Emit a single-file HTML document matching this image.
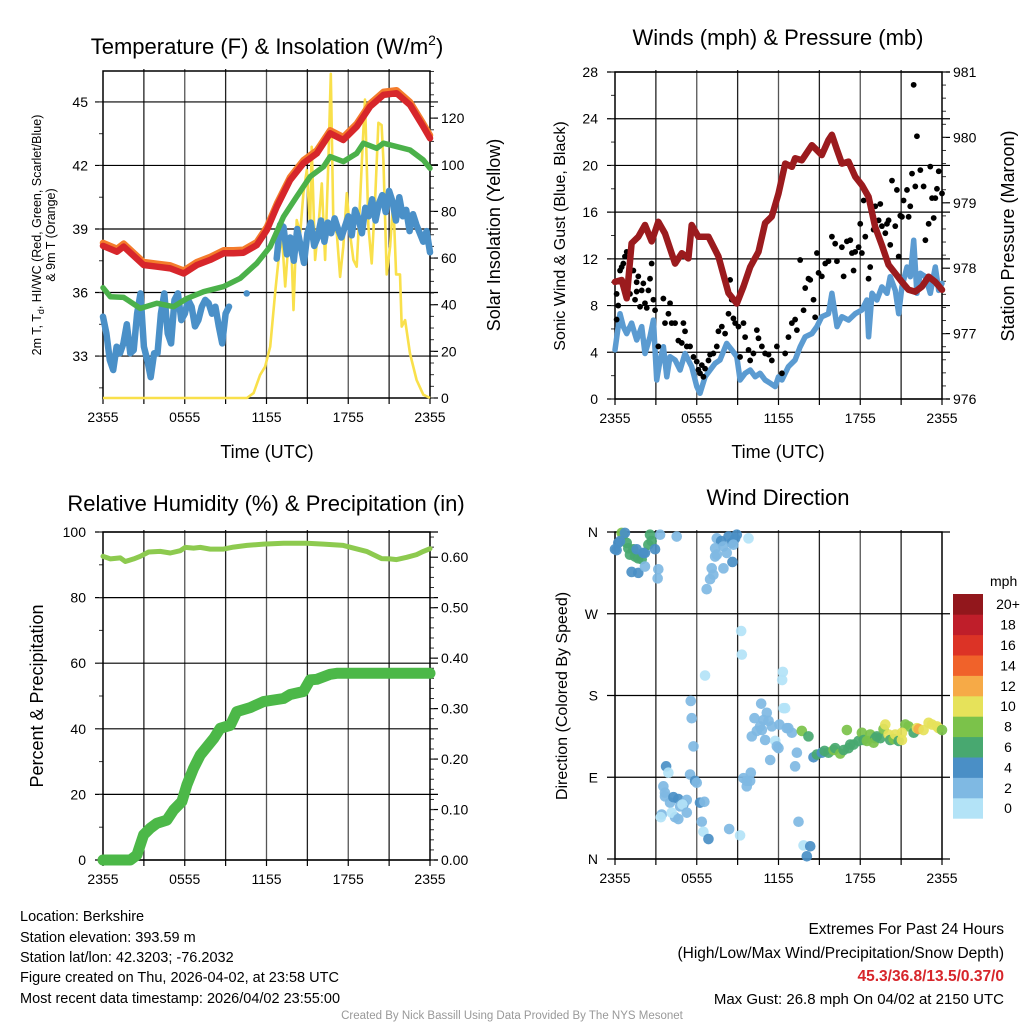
<!DOCTYPE html>
<html><head><meta charset="utf-8"><style>
html,body{margin:0;padding:0;background:#fff;}
svg{display:block;font-family:"Liberation Sans",Arial,sans-serif;}
</style></head><body>
<svg id="chart" width="1024" height="1024" viewBox="0 0 1024 1024" xmlns="http://www.w3.org/2000/svg">
<rect width="1024" height="1024" fill="#fff"/>
<text x="267" y="54" font-size="22" text-anchor="middle">Temperature (F) &amp; Insolation (W/m<tspan dy="-9" font-size="14">2</tspan><tspan dy="9">)</tspan></text>
<text x="778" y="45" font-size="22" text-anchor="middle">Winds (mph) &amp; Pressure (mb)</text>
<text x="266" y="511" font-size="22" text-anchor="middle">Relative Humidity (%) &amp; Precipitation (in)</text>
<text x="778" y="505" font-size="22" text-anchor="middle">Wind Direction</text>
<text transform="translate(41,235) rotate(-90)" font-size="12.5" text-anchor="middle">2m T, T<tspan dy="3" font-size="9">d</tspan><tspan dy="-3">, HI/WC (Red, Green, Scarlet/Blue)</tspan></text>
<text transform="translate(55,235) rotate(-90)" font-size="12.5" text-anchor="middle">&amp; 9m T (Orange)</text>
<text transform="translate(500,235) rotate(-90)" font-size="18" text-anchor="middle">Solar Insolation (Yellow)</text>
<text transform="translate(565,236) rotate(-90)" font-size="16" text-anchor="middle">Sonic Wind &amp; Gust (Blue, Black)</text>
<text transform="translate(1014,236) rotate(-90)" font-size="18" text-anchor="middle">Station Pressure (Maroon)</text>
<text transform="translate(43,696) rotate(-90)" font-size="18" text-anchor="middle">Percent &amp; Precipitation</text>
<text transform="translate(567,696) rotate(-90)" font-size="16" text-anchor="middle">Direction (Colored By Speed)</text>
<text x="267" y="458" font-size="18" text-anchor="middle">Time (UTC)</text>
<text x="778" y="458" font-size="18" text-anchor="middle">Time (UTC)</text>
<g font-size="14.5">
<text x="20" y="921">Location: Berkshire</text>
<text x="20" y="942">Station elevation: 393.59 m</text>
<text x="20" y="962">Station lat/lon: 42.3203; -76.2032</text>
<text x="20" y="982">Figure created on Thu, 2026-04-02, at 23:58 UTC</text>
<text x="20" y="1003">Most recent data timestamp: 2026/04/02 23:55:00</text>
</g>
<g font-size="15.5" text-anchor="end">
<text x="1004" y="934">Extremes For Past 24 Hours</text>
<text x="1004" y="958">(High/Low/Max Wind/Precipitation/Snow Depth)</text>
<text x="1004" y="981" fill="#d7262b" font-weight="bold">45.3/36.8/13.5/0.37/0</text>
<text x="1004" y="1004" font-size="15">Max Gust: 26.8 mph On 04/02 at 2150 UTC</text>
</g>
<text x="512" y="1019" font-size="11.5" fill="#999" text-anchor="middle">Created By Nick Bassill Using Data Provided By The NYS Mesonet</text>
<g id="layer"></g>
</svg>
<script>
// ---------- data ----------
const xTickLabels = ["2355","0555","1155","1755","2355"];
const tempTicks = [33,36,39,42,45];
const solarTicks = [0,20,40,60,80,100,120];
const windTicks = [0,4,8,12,16,20,24,28];
const presTicks = [976,977,978,979,980,981];
const pctTicks = [0,20,40,60,80,100];
const inchTicks = [0,0.1,0.2,0.3,0.4,0.5,0.6];
const inchLabels = ["0.00","0.10","0.20","0.30","0.40","0.50","0.60"];
const dirTicks = [0,90,180,270,360];
const dirLabels = ["N","E","S","W","N"];
const cbLabels = ["0","2","4","6","8","10","12","14","16","18","20+"];
const cbColors = ["#b3e3f7","#7fb9e3","#4a8fc6","#48a870","#7bc24a","#e6e25a","#f6aa47","#f0622a","#dc3326","#bf1e2a","#92171c"];

const tempTime = [0,1.03,1.52,2.98,3.96,4.94,5.92,6.89,7.87,8.85,9.58,10.31,11.29,12.02,12.76,13.73,14.71,15.69,16.67,17.64,18.62,19.6,20.58,21.55,22.53,23.51,24];
const tempVal  = [38.2,37.93,38.17,37.3,37.22,37.14,36.9,37.3,37.54,37.85,37.85,37.88,38.24,38.95,40.06,41.31,42.1,42.57,43.52,43.2,43.83,44.78,45.33,45.41,44.86,43.83,43.28];
const chillTime = [0,0.54,1.52,2.74,3.96,5.18,6.16,7.38,8.85,10.07,11.29,12.27,13.25,14.22,15.2,16.18,16.67,17.64,18.62,19.11,20.09,20.58,21.55,22.53,23.51,24];
const chillVal  = [36.23,35.8,35.77,35.25,35.49,35.33,35.72,36.04,36.28,36.67,37.38,38.17,39.58,40.53,41.47,41.94,42.42,42.18,42.57,43.05,42.81,43.05,42.89,42.73,42.26,41.87];
const dewTime = [0,0.25,0.5,0.75,1,1.25,1.5,1.75,2,2.25,2.5,2.75,3,3.25,3.5,3.75,4,4.25,4.5,4.75,5,5.25,5.5,5.75,6,6.25,6.5,6.75,7,7.25,7.5,7.75,8,8.25,8.5,8.75,9,9.25,9.4,10.5,10.55,10.6,12.7,
 12.75,13.0,13.25,13.5,13.75,14.0,14.25,14.5,14.75,15.0,15.25,15.5,15.75,16.0,16.25,16.5,16.75,17.0,17.25,17.5,17.75,18.0,18.25,18.5,18.75,19.0,19.25,19.5,19.75,20.0,20.25,20.5,20.75,21.0,21.25,21.5,21.75,22.0,22.25,22.5,22.75,23.0,23.25,23.5,23.75,24];
const dewVal  = [34.86,34.07,32.81,32.34,33.44,33.13,33.6,34.5,33.13,33.28,35.0,35.96,33.44,32.81,32.0,33.13,33.13,35.0,35.96,34.07,33.6,35.65,35.96,34.7,35.0,35.65,35.33,34.4,34.7,35.33,35.65,35.5,35.0,35.33,34.4,33.6,35.0,35.33,null,null,35.96,null,null,
 37.6,39.2,39.1,37.8,38.6,37.5,39.0,38.2,37.4,38.8,39.3,38.2,38.6,39.4,38.4,39.3,38.8,39.5,39.0,38.6,39.1,39.6,38.7,39.9,39.5,38.8,40.0,39.6,40.4,39.4,40.2,40.6,39.8,40.8,40.3,39.4,40.5,39.6,39.9,38.9,39.7,39.2,38.8,38.4,38.9,37.9,37.4];
const solarTime = [0,10.56,11.05,11.53,11.9,12.27,12.63,12.88,13.12,13.37,13.61,13.86,13.98,14.22,14.47,14.71,14.96,15.2,15.32,15.57,15.81,16.06,16.3,16.54,16.72,16.91,17.16,17.4,17.64,17.89,18.13,18.38,18.62,18.87,19.06,19.23,19.48,19.72,19.97,20.21,20.45,20.58,20.82,21.07,21.31,21.51,21.8,21.92,22.17,22.53,23.02,23.51,24];
const solarVal  = [0,0,2.1,9.9,13.4,22,44.9,59.2,70.6,47.8,66.3,59.2,37.7,76.3,70.6,87.8,97.7,73.5,107.7,59.2,73.5,92,59.2,102,139,73.5,70.6,51.9,64.9,87.8,70.6,59.2,56.3,84.9,109,128,73.5,57.7,84.9,118,117,102,53,64.9,84.9,53,53,30.6,33.4,19.1,7.7,1.4,0];
const presTime = [0,0.49,0.86,1.22,1.71,2.2,2.69,3.18,3.67,4.41,4.9,5.39,5.63,6.12,6.86,7.59,8.33,8.94,9.43,9.92,10.53,11.02,11.51,12.0,12.49,12.98,13.22,13.71,14.45,15.18,15.67,15.92,16.29,16.65,17.14,17.63,18.12,18.61,19.1,19.59,20.08,20.57,21.06,21.55,22.04,22.53,23.02,23.51,24];
const presVal  = [977.79,977.82,977.54,978.38,978.48,978.66,978.41,978.71,978.53,978.07,978.23,978.15,978.66,978.48,978.48,978.18,977.62,977.46,977.72,978.02,978.25,978.69,978.79,979.14,979.6,979.55,979.68,979.65,979.88,979.73,979.96,980.04,979.81,979.6,979.63,979.4,979.27,979.09,978.63,978.35,978.05,977.92,977.79,977.67,977.64,977.72,977.87,977.79,977.67];
const windTime = [0,0.37,0.61,0.86,1.22,1.59,1.96,2.2,2.57,2.82,3.06,3.31,3.55,3.8,4.04,4.41,4.78,5.14,5.63,6.0,6.24,6.61,6.98,7.35,7.71,8.2,8.57,8.94,9.18,9.55,9.92,10.29,10.65,11.02,11.39,11.76,12.0,12.25,12.73,13.22,13.59,13.96,14.45,14.82,15.18,15.67,15.92,16.29,16.65,17.14,17.63,18.12,18.49,18.61,18.86,19.22,19.59,19.96,20.2,20.57,20.82,21.06,21.43,21.67,21.92,22.16,22.41,22.78,23.14,23.51,23.76,24];
const windVal  = [4.2,7.3,6.2,5.6,6.5,5.05,6.2,3.9,5.33,6.76,1.63,3.34,4.48,1.9,3.62,3.34,2.48,3.9,2.77,1.06,0.49,1.9,2.48,3.05,3.34,4.76,4.2,3.62,1.63,2.2,2.48,1.9,2.2,1.63,1.35,1.06,1.9,1.63,2.77,3.34,4.48,5.33,5.6,6.2,7.05,7.3,9.05,6.2,7.05,6.76,7.3,7.62,8.48,5.33,9.05,8.48,9.6,9.05,10.47,9.3,7.3,9.6,11.3,10.47,13.6,9.05,10.76,10.47,9.05,11.3,9.3,9.9];
const gustTime = [0.12,0.12,0.24,0.37,0.49,0.61,0.73,0.86,0.98,1.1,1.22,1.35,1.47,1.59,1.59,1.71,1.84,1.96,2.08,2.2,2.33,2.45,2.57,2.69,2.82,2.94,3.18,3.55,3.67,3.92,4.04,4.16,4.41,4.65,4.9,5.02,5.14,5.27,5.51,5.76,6.0,6.12,6.24,6.37,6.49,6.61,6.86,6.98,7.22,7.47,7.59,7.84,8.08,8.33,8.45,8.57,8.69,8.82,9.06,9.18,9.43,9.55,9.8,9.92,10.16,10.41,10.53,10.78,11.02,11.27,11.51,11.88,12.25,12.49,12.73,12.98,13.22,13.35,13.59,13.84,13.96,14.2,14.33,14.57,14.69,14.82,14.94,15.18,15.43,15.67,15.92,16.16,16.29,16.65,16.78,17.02,17.27,17.39,17.51,17.63,17.88,18.0,18.12,18.25,18.37,18.61,18.73,18.98,19.1,19.35,19.47,19.59,19.84,19.96,20.08,20.2,20.33,20.57,20.69,20.82,20.94,21.06,21.18,21.43,21.55,21.67,21.8,21.92,22.04,22.16,22.41,22.65,22.78,23.02,23.14,23.27,23.39,23.51,23.63,23.76,24.0];
const gustVal  = [6.8,9.0,8.0,11.0,11.3,11.6,12.2,12.6,10.5,9.0,11.0,11.0,8.5,10.0,9.2,10.5,7.9,9.3,9.9,8.2,7.8,9.3,10.3,11.6,8.5,7.6,4.5,8.6,6.5,7.3,8.2,6.5,6.5,5.0,4.8,6.5,5.8,4.5,4.5,3.6,3.2,2.5,2.2,2.9,1.9,2.6,3.3,3.8,3.9,4.5,5.8,6.2,5.6,7.3,10.2,8.5,6.9,6.5,6.2,3.6,6.5,5.3,4.2,3.3,3.9,5.9,5.2,4.5,3.9,3.8,3.3,4.5,2.2,3.9,5.3,6.5,6.8,5.9,11.9,7.6,9.5,10.3,10.2,8.5,7.0,12.5,10.8,10.5,11.6,11.8,13.9,13.3,11.8,13.0,10.5,13.5,13.6,12.5,11.0,12.6,13.0,15.0,12.5,17.0,13.9,10.3,11.3,14.5,16.5,15.3,16.7,14.8,14.2,15.0,15.3,13.2,18.7,14.8,17.9,12.2,15.7,15.6,17.0,17.9,15.6,16.5,19.3,26.9,18.2,22.5,19.6,18.2,13.6,15.0,19.9,17.2,15.5,17.2,18.0,19.5,17.6];
const rhTime = [0,0.54,1.27,1.64,2.25,2.74,3.35,4.2,4.94,5.67,6.03,6.65,7.14,7.87,8.85,9.58,10.56,11.78,13.25,14.96,16.18,17.64,18.38,19.35,19.84,20.45,21.06,21.55,22.29,23.02,23.51,24];
const rhVal  = [92.6,91.8,92.1,91.0,91.8,92.6,93.9,94.1,93.6,94.3,95.3,95.1,95.3,94.8,94.8,95.4,95.9,96.3,96.6,96.6,96.3,95.9,95.1,94.1,93.1,91.9,91.8,91.6,92.3,93.1,94.1,94.9];
const precipTime = [0,2.0,2.49,2.98,3.47,3.96,4.69,5.18,5.79,6.16,6.65,7.14,8.13,8.6,9.34,9.82,10.8,11.78,13.25,13.74,14.71,15.2,15.69,16.67,17.16,24];
const precipVal  = [0,0,0.01,0.05,0.063,0.073,0.079,0.099,0.116,0.149,0.182,0.208,0.241,0.261,0.267,0.294,0.302,0.314,0.32,0.328,0.334,0.357,0.358,0.368,0.37,0.37];
const dirTime = [0.61,0.49,0.24,0,0.12,0.86,0.98,1.1,1.35,1.47,1.71,1.96,2.2,2.45,2.57,2.69,2.94,3.31,4.53,1.22,1.71,2.2,3.18,3.13,0.73,0.37,1.59,2.08,
 7.47,7.79,8.33,8.57,8.82,8.94,8.69,9.8,7.35,7.96,8.2,8.62,7.35,7.96,7.1,7.22,6.98,6.73,7.47,
 9.26,9.31,6.61,12.32,12.27,5.56,5.63,12.37,12.49,10.73,10.24,11.14,10.9,11.27,11.51,12.07,12.61,10.41,10.65,12.73,12.98,10.04,10.78,11.02,11.76,11.88,12.0,13.35,11.39,13.22,9.97,9.92,9.43,9.67,9.67,3.67,4.04,5.76,3.75,3.92,5.51,5.88,6.0,3.55,3.67,4.29,4.65,5.02,5.27,6.24,6.56,4.78,4.95,5.27,3.43,4.41,4.16,4.65,3.36,6.37,8.38,6.49,6.86,9.18,
 13.47,13.84,14.08,14.33,14.57,14.82,15.18,15.38,15.67,16.04,16.16,16.53,16.78,17.14,17.27,17.51,17.88,18.12,18.25,18.49,18.73,19.1,18.98,19.22,19.47,19.71,20.08,20.2,20.45,20.57,20.82,21.06,21.31,21.55,21.92,22.16,22.29,22.65,23.02,23.27,23.63,23.76,24.0,21.06,19.84,17.02,13.71,14.2];
const dirDeg = [357,359,348,341,340,348,342,335,341,333,331,330,337,346,357,350,341,357,355,316,315,322,319,309,359,350,341,337,
 353,350,355,348,353,357,346,353,342,344,337,327,333,320,320,313,308,297,335,
 251,225,202,206,197,174,155,166,166,171,155,161,153,152,146,148,144,141,146,144,139,135,142,131,130,124,122,117,109,102,95,86,89,86,80,73,62,124,102,95,93,86,84,80,69,68,66,60,65,62,63,58,60,51,49,46,51,44,46,41,33,30,22,26,41,15,3,14,
 112,115,117,119,117,120,122,116,120,122,126,126,130,139,131,130,137,133,128,135,133,143,137,131,132,137,130,131,148,146,139,144,143,142,150,148,146,144,142,139,148,142,141,135,128,124,113,117];
const dirSpeed = [7,9,5,5,5,7,7,7,7,7,7,7,5,7,7,7,5,3,3,5,5,3,3,3,5,5,5,5,
 3,5,5,5,5,5,3,1,3,3,3,5,3,3,3,3,3,3,3,
 1,1,1,1,1,3,3,1,1,3,3,3,3,3,3,3,3,3,3,3,3,3,3,3,1,3,3,3,3,3,3,3,3,3,3,3,3,3,5,1,3,5,3,3,3,5,5,5,3,5,3,3,1,3,3,3,1,3,1,3,3,1,5,1,3,1,
 5,5,5,7,5,7,7,9,7,9,7,7,7,7,7,9,7,9,9,7,9,7,7,9,11,7,9,11,7,11,9,9,7,11,13,11,11,11,11,11,9,11,11,9,9,7,3,3];

// ---------- helpers ----------
const NS = 'http://www.w3.org/2000/svg';
const layer = document.getElementById('layer');
function mk(tag, attrs, parent) {
  const e = document.createElementNS(NS, tag);
  for (const k in attrs) e.setAttribute(k, attrs[k]);
  (parent || layer).appendChild(e);
  return e;
}
function lin(d0, d1, r0, r1) { return v => r0 + (v - d0) / (d1 - d0) * (r1 - r0); }

const P1 = {x0:103, x1:430, y0:71, y1:398};
const P2 = {x0:615, x1:942, y0:72, y1:399};
const P3 = {x0:103, x1:430, y0:532, y1:860};
const P4 = {x0:615, x1:942, y0:532, y1:859};
const panels = [P1, P2, P3, P4];
panels.forEach(p => { p.x = lin(0, 24, p.x0, p.x1); });
P1.yL = lin(31.02, 46.46, P1.y1, P1.y0); P1.yR = lin(0, 140.2, P1.y1, P1.y0);
P2.yL = lin(0, 28, P2.y1, P2.y0);        P2.yR = lin(976, 981, P2.y1, P2.y0);
P3.yL = lin(0, 100, P3.y1, P3.y0);       P3.yR = lin(0, 0.65, P3.y1, P3.y0);
P4.yL = lin(0, 360, P4.y1, P4.y0);

function pathFrom(p, ts, vs, yf) {
  let d = '', pen = false;
  for (let i = 0; i < ts.length; i++) {
    const v = vs[i];
    if (v === null || v === undefined) { pen = false; continue; }
    d += (pen ? 'L' : 'M') + p.x(ts[i]).toFixed(1) + ',' + yf(v).toFixed(1);
    if (!pen && (i + 1 >= vs.length || vs[i + 1] === null)) d += 'l0.01,0';
    pen = true;
  }
  return d;
}

// ---------- frames, grids, ticks ----------
panels.forEach((p, pi) => {
  const g = mk('g', {});
  
  
  for (let h = 3; h < 24; h += 3) {
    const gl = mk('line', {x1:p.x(h), x2:p.x(h), y1:p.y0 - 2, y2:p.y1, stroke: h % 6 === 0 ? '#555' : '#222', 'stroke-width':1.3}, g);
    
    
  }
  for (let h = 0; h <= 24; h += 3) {
    const tk = mk('line', {x1:p.x(h), x2:p.x(h), y1:p.y1, y2:p.y1 + 6, stroke:'#000', 'stroke-width':1.2}, g);
    
    
  }
  xTickLabels.forEach((lab, i) => {
    const t = mk('text', {x:p.x(i * 6), y:p.y1 + 24, 'font-size':14, 'text-anchor':'middle'}, g);
    t.textContent = lab;
    
    
  });
});

function leftAxis(p, ticks, labels, minorStep, lo, hi, lx, hgrid) {
  ticks.forEach((v, i) => {
    const y = p.yL(v);
    if (hgrid) {
      const gl = mk('line', {x1:p.x0 - 8, x2:p.x1 + 8, y1:y, y2:y, stroke:'#000', 'stroke-width':1.2});
      
      
    }
    const t = mk('text', {x:lx, y:y + 5, 'font-size':14, 'text-anchor':'end'});
    t.textContent = labels ? labels[i] : String(v);
    
    
  });
  if (minorStep) for (let v = lo; v <= hi + 1e-9; v += minorStep) {
    const y = p.yL(v);
    const m = mk('line', {x1:p.x0 - 4, x2:p.x0, y1:y, y2:y, stroke:'#333', 'stroke-width':1});
    
    
  }
}
function rightAxis(p, ticks, labels, minorStep, lo, hi) {
  ticks.forEach((v, i) => {
    const y = p.yR(v);
    const tk = mk('line', {x1:p.x1, x2:p.x1 + 8, y1:y, y2:y, stroke:'#000', 'stroke-width':1.2});
    
    
    const t = mk('text', {x:p.x1 + 11, y:y + 5, 'font-size':14});
    t.textContent = labels ? labels[i] : String(v);
    
    
  });
  for (let v = lo; v <= hi + 1e-9; v += minorStep) {
    const y = p.yR(v);
    const m = mk('line', {x1:p.x1, x2:p.x1 + 4, y1:y, y2:y, stroke:'#333', 'stroke-width':1});
    
    
  }
}
leftAxis(P1, tempTicks, null, 1.5, 31.5, 46, 88, true);
rightAxis(P1, solarTicks, null, 5, 0, 140);
leftAxis(P2, windTicks, null, 2, 0, 28, 598, true);
rightAxis(P2, presTicks, null, 0.2, 976, 981);
leftAxis(P3, pctTicks, null, 10, 0, 100, 86, true);
rightAxis(P3, inchTicks, inchLabels, 0.02, 0, 0.64);
leftAxis(P4, dirTicks, dirLabels, 0, 0, 0, 598, true);

panels.forEach((p, pi) => {
  const b = mk('rect', {x:p.x0, y:p.y0, width:p.x1 - p.x0, height:p.y1 - p.y0, fill:'none', stroke:'#000', 'stroke-width':1.5});
  
  
});

// ---------- panel 1 ----------
const solarLine = mk('path', {d:pathFrom(P1, solarTime, solarVal, P1.yR), fill:'none', stroke:'#f9e04b', 'stroke-width':2.6, 'stroke-linejoin':'round'});


const dewLine = mk('path', {d:pathFrom(P1, dewTime, dewVal, P1.yL), fill:'none', stroke:'#4a90c8', 'stroke-width':6.5, 'stroke-linejoin':'round', 'stroke-linecap':'round'});


const chillLine = mk('path', {d:pathFrom(P1, chillTime, chillVal, P1.yL), fill:'none', stroke:'#4bb14a', 'stroke-width':5.5, 'stroke-linejoin':'round', 'stroke-linecap':'round'});


const orangeLine = mk('path', {d:pathFrom(P1, tempTime, tempVal, v => P1.yL(v) - 3), fill:'none', stroke:'#f47c2c', 'stroke-width':6.5, 'stroke-linejoin':'round', 'stroke-linecap':'round'});


const tempLine = mk('path', {d:pathFrom(P1, tempTime, tempVal, P1.yL), fill:'none', stroke:'#d7262b', 'stroke-width':6.5, 'stroke-linejoin':'round', 'stroke-linecap':'round'});



// ---------- panel 2 ----------
const windLine = mk('path', {d:pathFrom(P2, windTime, windVal, P2.yL), fill:'none', stroke:'#5b9bd1', 'stroke-width':5.5, 'stroke-linejoin':'round', 'stroke-linecap':'round'});


gustTime.forEach((t, i) => {
  const c = mk('circle', {cx:P2.x(t), cy:P2.yL(gustVal[i]), r:2.9, fill:'#000'});
  
  
});
const presLine = mk('path', {d:pathFrom(P2, presTime, presVal, P2.yR), fill:'none', stroke:'#9b1b1e', 'stroke-width':6.5, 'stroke-linejoin':'round', 'stroke-linecap':'round'});



// ---------- panel 3 ----------
const rhLine = mk('path', {d:pathFrom(P3, rhTime, rhVal, P3.yL), fill:'none', stroke:'#8dca4f', 'stroke-width':5, 'stroke-linejoin':'round', 'stroke-linecap':'round'});


const prLine = mk('path', {d:pathFrom(P3, precipTime, precipVal, P3.yR), fill:'none', stroke:'#4cb848', 'stroke-width':11, 'stroke-linejoin':'round', 'stroke-linecap':'round'});



// ---------- panel 4 ----------
function spdColor(s) { let k = Math.floor(s / 2); if (k > 10) k = 10; if (k < 0) k = 0; return cbColors[k]; }
dirTime.forEach((t, i) => {
  const c = mk('circle', {cx:P4.x(t), cy:P4.yL(dirDeg[i]), r:5.3, fill:spdColor(dirSpeed[i]), 'fill-opacity':0.92});
  
  
});

// colorbar
const cbTop = 594, cbH = 20.4;
const cbUnit = mk('text', {x:990, y:586, 'font-size':14});
cbUnit.textContent = 'mph';


cbColors.forEach((col, i) => {
  const yb = cbTop + (10 - i) * cbH;
  const r = mk('rect', {x:953, y:yb, width:30, height:cbH + 0.3, fill:col});
  
  
  const t = mk('text', {x:1008, y:yb + cbH / 2 + 5, 'font-size':14, 'text-anchor':'middle'});
  t.textContent = cbLabels[i];
  
  
});
</script>
</body></html>
